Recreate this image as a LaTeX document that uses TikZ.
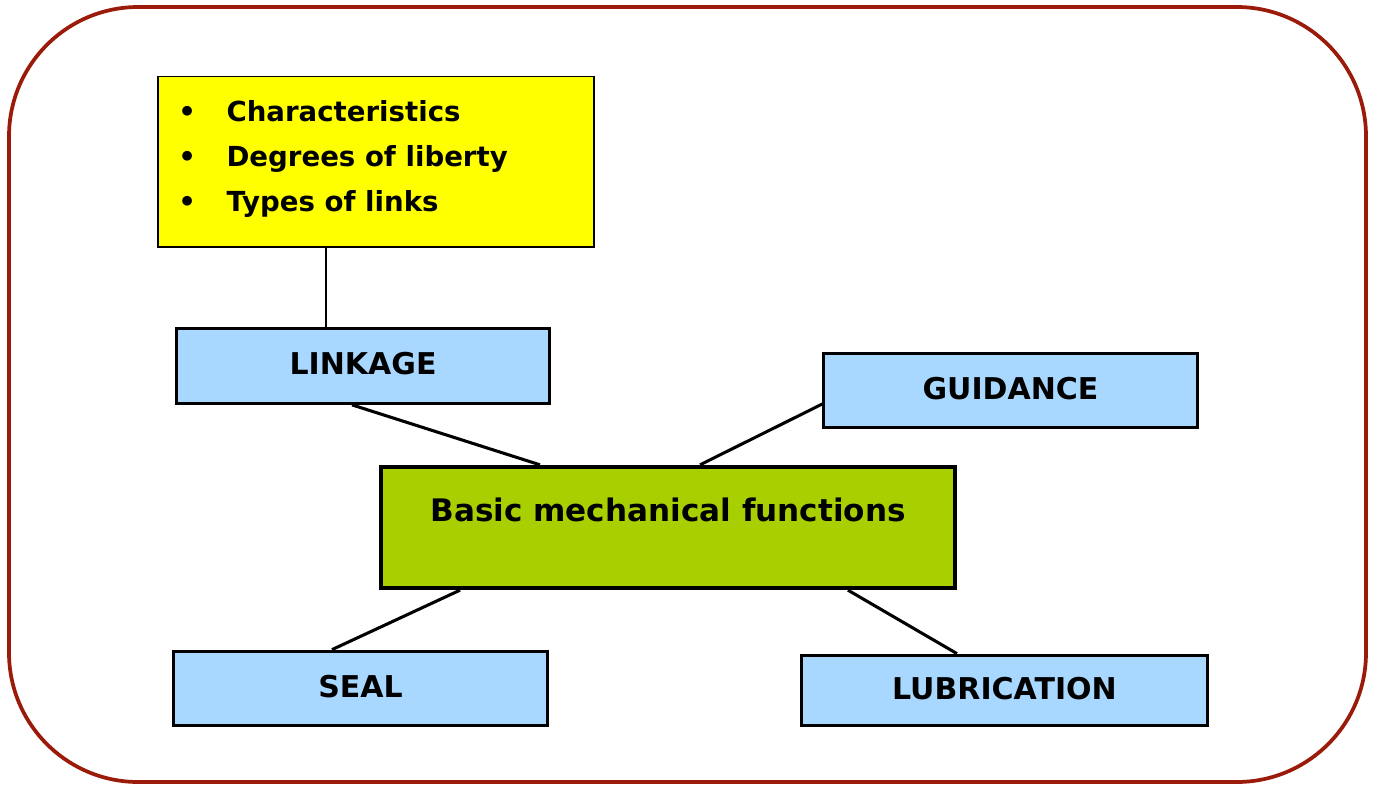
\documentclass[tikz,border=0pt]{standalone}
\usepackage{fontspec}
\setmainfont{DejaVu Sans}
\usetikzlibrary{backgrounds}
\definecolor{frame}{HTML}{9B1B0B}
\definecolor{boxblue}{HTML}{A8D8FF}
\definecolor{boxgreen}{HTML}{A8D000}
\definecolor{boxyellow}{HTML}{FFFF00}
\tikzset{
  func/.style={draw=black, line width=2.3pt, fill=boxblue, minimum height=56pt, inner sep=0pt,
    text height=16.4pt, text depth=3pt, font=\bfseries\fontsize{22.5}{26}\selectfont},
  link/.style={draw=black, line width=2.3pt},
}
\begin{document}
\begin{tikzpicture}[x=0.75pt,y=-0.75pt]
\useasboundingbox (0,0) rectangle (1374,785);
\draw[frame, line width=2.8pt, rounded corners=97pt] (9,7) rectangle (1366,782);
% yellow box
\node[draw=black, line width=1pt, fill=boxyellow, minimum width=327pt, minimum height=128pt, inner sep=0pt] (info) at (376,161.5) {};
\node[anchor=north west, inner sep=0pt, font=\bfseries\fontsize{20.7}{33.75}\selectfont] (list) at (178,89.5)
  {\begin{tabular}{@{}l@{\hspace{23pt}}l@{}}\textbullet & Characteristics\\ \textbullet & Degrees of liberty\\ \textbullet & Types of links\end{tabular}};
% function boxes
\node[func, minimum width=280pt] (linkage) at (363,366) {LINKAGE};
\node[func, minimum width=280pt] (guidance) at (1010.5,390.5) {GUIDANCE};
\node[func, minimum width=280pt] (seal) at (360.5,688.5) {SEAL};
\node[func, minimum width=305pt, minimum height=53pt] (lubrication) at (1004.5,690.5) {LUBRICATION};
\node[draw=black, line width=3pt, fill=boxgreen, minimum width=430pt, minimum height=91pt, inner sep=0pt] (main) at (668,527.5) {};
\node[font=\bfseries\fontsize{23.3}{26}\selectfont, inner sep=0pt] (title) at (668,510) {Basic mechanical functions};
% connectors
\begin{scope}[on background layer]
\draw[line width=1pt] (info.south -| 326,0) -- (linkage.north -| 326,0);
\draw[link] (linkage.south -| 352,0) -- (main.north -| 540,0);
\draw[link] (guidance.west |- 0,404) -- (main.north -| 700,0);
\draw[link] (main.south -| 460,0) -- (seal.north -| 332,0);
\draw[link] (main.south -| 848,0) -- (lubrication.north -| 957,0);
\end{scope}
\end{tikzpicture}
\end{document}
